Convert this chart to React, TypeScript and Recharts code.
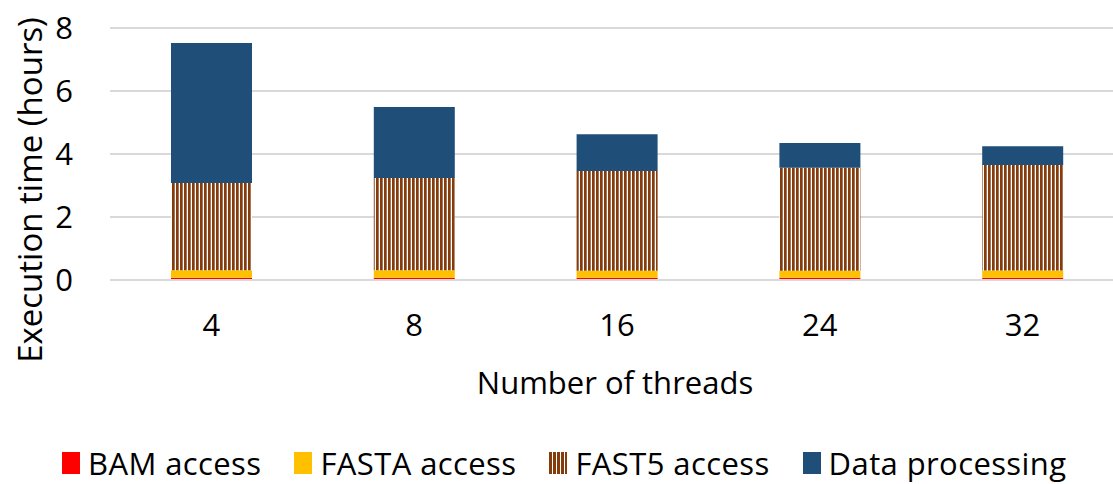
import React from 'react';
import { BarChart, Bar, XAxis, YAxis, CartesianGrid } from 'recharts';

const threads = ['4', '8', '16', '24', '32'];
const bamAccess = [0.07, 0.07, 0.07, 0.07, 0.07];
const fastaAccess = [0.24, 0.24, 0.22, 0.22, 0.23];
const fast5Access = [2.77, 2.93, 3.17, 3.27, 3.35];
const dataProcessing = [4.44, 2.25, 1.17, 0.79, 0.6];
const yTicks = [0, 2, 4, 6, 8];

const data = threads.map((t, i) => ({
  threads: t,
  bam: bamAccess[i],
  fasta: fastaAccess[i],
  fast5: fast5Access[i],
  proc: dataProcessing[i],
}));

const FONT = '"Open Sans", sans-serif';

const legendItems = [
  { name: 'BAM access', fill: '#FF0000' },
  { name: 'FASTA access', fill: '#FFC000' },
  { name: 'FAST5 access', fill: 'stripes' },
  { name: 'Data processing', fill: '#1F4E79' },
];

const stripeBg = 'repeating-linear-gradient(90deg, #843C0C 0px, #843C0C 2.7px, #fff 2.7px, #fff 4px)';

const YTitle = () => (
  <text
    x={29}
    y={190}
    transform="rotate(-90, 29, 190)"
    textAnchor="middle"
    dominantBaseline="central"
    fontSize={33}
    fill="#000"
    fontFamily={FONT}
  >
    Execution time (hours)
  </text>
);

const XTitle = () => (
  <text x={615} y={382} textAnchor="middle" dominantBaseline="central" fontSize={31} fill="#000" fontFamily={FONT}>
    Number of threads
  </text>
);

export default function App() {
  return (
    <div style={{ position: 'absolute', left: 0, top: 0, width: 1113, height: 484, overflow: 'hidden', background: '#fff', fontFamily: FONT }}>
      <BarChart width={1130} height={484} data={data} margin={{ top: 28, right: 6, left: 0, bottom: 0 }} barSize={81}>
        <defs>
          <pattern id="fast5" width="4" height="4" patternUnits="userSpaceOnUse">
            <rect x="0" y="0" width="4" height="4" fill="#fff" />
            <rect x="0" y="0" width="2.7" height="4" fill="#843C0C" />
          </pattern>
        </defs>
        <CartesianGrid vertical={false} stroke="#d9d9d9" strokeWidth={2} />
        <XAxis
          dataKey="threads"
          height={204}
          axisLine={{ stroke: '#d9d9d9', strokeWidth: 2 }}
          tickLine={false}
          tickSize={0}
          tickMargin={34}
          tick={{ fontSize: 31, fill: '#000', fontFamily: FONT }}
        />
        <YAxis
          width={110}
          domain={[0, 8]}
          ticks={yTicks}
          axisLine={false}
          tickLine={false}
          tickSize={0}
          tickMargin={37}
          tick={{ fontSize: 31, fill: '#000', fontFamily: FONT }}
        />
        <Bar dataKey="bam" stackId="a" fill="#FF0000" isAnimationActive={false} />
        <Bar dataKey="fasta" stackId="a" fill="#FFC000" isAnimationActive={false} />
        <Bar dataKey="fast5" stackId="a" fill="url(#fast5)" isAnimationActive={false} />
        <Bar dataKey="proc" stackId="a" fill="#1F4E79" isAnimationActive={false} />
        <YTitle />
        <XTitle />
      </BarChart>
      <div style={{ position: 'absolute', left: 62, top: 442, display: 'flex', alignItems: 'center', fontSize: 31, lineHeight: '42px', letterSpacing: '0.4px', color: '#000', whiteSpace: 'nowrap' }}>
        {legendItems.map((item) => (
          <div key={item.name} style={{ display: 'flex', alignItems: 'center', marginRight: 33 }}>
            <span
              style={{
                display: 'inline-block',
                width: 18,
                height: 22,
                marginRight: 8,
                background: item.fill === 'stripes' ? stripeBg : item.fill,
              }}
            />
            <span>{item.name}</span>
          </div>
        ))}
      </div>
    </div>
  );
}
